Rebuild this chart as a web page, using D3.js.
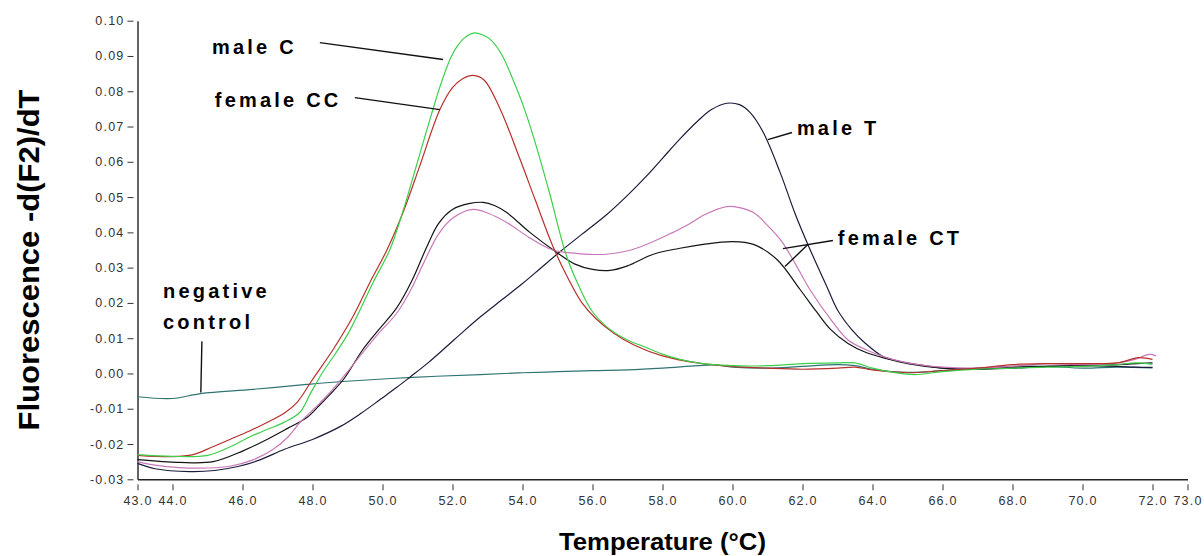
<!DOCTYPE html>
<html>
<head>
<meta charset="utf-8">
<script src="https://cdn.jsdelivr.net/npm/d3@7"></script>
<style>
  html, body { margin: 0; padding: 0; background: #fff; }
  svg { display: block; }
  .tick text { font-family: "Liberation Sans", Arial, sans-serif; font-size: 12.5px; fill: #333; letter-spacing: 1.2px; }
  .note { font-family: "Liberation Sans", Arial, sans-serif; font-weight: bold; font-size: 20px; letter-spacing: 3.2px; fill: #000; }
  .title { font-family: "Liberation Sans", Arial, sans-serif; font-weight: bold; fill: #000; }
</style>
</head>
<body>
<svg id="chart" width="1204" height="556"></svg>
<script>
// Melting-curve derivative traces: [temperature °C, -d(F2)/dT]
const maleC = [
  [43, -0.0230], [44, -0.0235], [45, -0.0232], [45.6, -0.0210], [46.2, -0.0180], [46.7, -0.0159],
  [47.2, -0.0138], [47.64, -0.0110], [47.95, -0.0055], [48.3, 0.0005], [48.6, 0.0048], [49.0, 0.0110],
  [49.27, 0.0162], [49.73, 0.0258], [50.21, 0.0351], [50.6, 0.0465], [51.0, 0.0600], [51.4, 0.0735],
  [51.7, 0.0830], [51.95, 0.0895], [52.15, 0.0930], [52.35, 0.0952], [52.6, 0.0965], [52.85, 0.0960],
  [53.1, 0.0945], [53.4, 0.0905], [53.7, 0.0840], [54.0, 0.0765], [54.3, 0.0675], [54.75, 0.0520],
  [55.25, 0.0335], [55.6, 0.0250], [56.0, 0.0175], [56.5, 0.0125], [57, 0.0095], [57.5, 0.0075], [58, 0.0055],
  [58.5, 0.0040], [59, 0.0030], [60, 0.0022], [61, 0.0022], [62, 0.0028], [63, 0.0030], [63.5, 0.0030],
  [64, 0.0015], [64.6, 0.0003], [65.2, -0.0003], [66, 0.0005], [67, 0.0012], [68, 0.0015], [69, 0.0018],
  [70, 0.0020], [71, 0.0025], [71.5, 0.0030], [72, 0.0026]
];
const femaleCC = [
  [43, -0.0232], [44, -0.0236], [44.59, -0.0230], [45.1, -0.0210], [45.64, -0.0187], [46.2, -0.0163],
  [46.7, -0.0139], [47.2, -0.0112], [47.56, -0.0082], [48.0, -0.0017], [48.59, 0.0068], [49.16, 0.0162],
  [49.64, 0.0258], [50.13, 0.0351], [50.6, 0.0460], [51.07, 0.0590], [51.64, 0.0748], [52.0, 0.0810],
  [52.3, 0.0836], [52.59, 0.0845], [52.9, 0.0832], [53.36, 0.0750], [53.93, 0.0607], [54.36, 0.0493],
  [54.87, 0.0360], [55.3, 0.0270], [55.7, 0.0200], [56.1, 0.0155], [56.6, 0.0115], [57.2, 0.0080],
  [58, 0.0050], [59, 0.0030], [60, 0.0020], [61, 0.0015], [62, 0.0012], [63, 0.0015], [63.5, 0.0018],
  [64, 0.0010], [65, 0.0002], [66, 0.0008], [67, 0.0015], [68, 0.0025], [69, 0.0028], [70, 0.0028],
  [71, 0.0030], [71.6, 0.0045], [72, 0.0040]
];
const femaleCT_a = [
  [43, -0.0244], [44.2, -0.0252], [45.16, -0.0250], [46, -0.0220], [46.7, -0.0187], [47.3, -0.0155],
  [47.84, -0.0125], [48.2, -0.0090], [48.59, -0.0050], [48.9, -0.0015], [49.44, 0.0068], [49.9, 0.0125],
  [50.4, 0.0185], [50.85, 0.0265], [51.27, 0.0360], [51.6, 0.0425], [52.0, 0.0465], [52.5, 0.0482],
  [52.87, 0.0485], [53.2, 0.0476], [53.55, 0.0456], [54.21, 0.0400], [54.98, 0.0343], [55.5, 0.0310],
  [56.0, 0.0295], [56.5, 0.0292], [57.0, 0.0305], [57.74, 0.0338], [58.5, 0.0355], [59.16, 0.0366],
  [60.0, 0.0374], [60.6, 0.0366], [61.27, 0.0323], [61.93, 0.0238], [62.4, 0.0175], [62.8, 0.0125],
  [63.3, 0.0085], [63.8, 0.0060], [64.4, 0.0042], [65, 0.0028], [66, 0.0015], [67, 0.0012], [68, 0.0018],
  [69, 0.0020], [70, 0.0022], [71, 0.0025], [72, 0.0030]
];
const femaleCT_b = [
  [43, -0.0250], [43.5, -0.0260], [44.2, -0.0267], [45, -0.0268], [45.64, -0.0263], [46.3, -0.0245],
  [46.88, -0.0215], [47.3, -0.0180], [47.64, -0.0139], [48.1, -0.0095], [48.5, -0.0054], [49.0, 0.0005],
  [49.44, 0.0060], [49.9, 0.0115], [50.4, 0.0170], [50.8, 0.0235], [51.16, 0.0310], [51.6, 0.0395],
  [52.0, 0.0440], [52.59, 0.0465], [53.0, 0.0455], [53.55, 0.0428], [54.2, 0.0385], [54.87, 0.0350],
  [55.6, 0.0340], [56.4, 0.0338], [57.1, 0.0350], [57.74, 0.0374], [58.3, 0.0400], [58.7, 0.0420],
  [59.2, 0.0450], [59.84, 0.0473], [60.2, 0.0470], [60.6, 0.0456], [61.0, 0.0420], [61.4, 0.0375],
  [61.8, 0.0310], [62.21, 0.0238], [62.87, 0.0145], [63.3, 0.0095], [63.8, 0.0068], [64.4, 0.0045],
  [65, 0.0030], [66, 0.0018], [67, 0.0015], [68, 0.0020], [69, 0.0028], [70, 0.0025], [71, 0.0030],
  [71.5, 0.0040], [71.9, 0.0054], [72.1, 0.0050]
];
const maleT = [
  [43, -0.0255], [43.5, -0.0270], [44.5, -0.0278], [45.2, -0.0275], [45.9, -0.0263], [46.5, -0.0245],
  [47.2, -0.0215], [48.0, -0.0187], [48.8, -0.0150], [49.4, -0.0112], [49.93, -0.0074], [50.4, -0.0040],
  [50.79, -0.0010], [51.3, 0.0030], [51.84, 0.0077], [52.3, 0.0118], [52.79, 0.0160], [53.4, 0.0208],
  [54, 0.0255], [54.5, 0.0297], [55.07, 0.0345], [55.7, 0.0395], [56.4, 0.0450], [57.0, 0.0505],
  [57.5, 0.0555], [58.0, 0.0610], [58.5, 0.0665], [59.0, 0.0715], [59.4, 0.0748], [59.84, 0.0766],
  [60.2, 0.0762], [60.5, 0.0740], [60.87, 0.0685], [61.36, 0.0570], [61.8, 0.0450], [62.2, 0.0355],
  [62.7, 0.0245], [63.0, 0.0180], [63.4, 0.0125], [63.8, 0.0085], [64.3, 0.0048], [64.8, 0.0034],
  [65.5, 0.0022], [66, 0.0015], [67, 0.0012], [68, 0.0015], [69, 0.0020], [70, 0.0022], [71, 0.0020],
  [71.5, 0.0018], [72, 0.0017]
];
const negControl = [
  [43, -0.0066], [44, -0.0071], [44.8, -0.0057], [46.3, -0.0045], [47.84, -0.0031], [48.98, -0.0022],
  [50.87, -0.0011], [52.79, -0.0003], [54, 0.0002], [55, 0.0005], [56, 0.0008], [57, 0.0010], [58, 0.0015],
  [59, 0.0022], [59.5, 0.0024], [60, 0.0018], [61, 0.0015], [62, 0.0020], [63, 0.0025], [63.5, 0.0022],
  [64, 0.0012], [65, 0.0003], [66, 0.0008], [67, 0.0015], [68, 0.0020], [69, 0.0020], [70, 0.0015],
  [71, 0.0018], [72, 0.0016]
];

const seriesNames  = ["negative control", "male T", "female CT (a)", "female CT (b)", "female CC", "male C"];
const seriesData   = [negControl, maleT, femaleCT_a, femaleCT_b, femaleCC, maleC];
const seriesColors = ["#2f7473", "#1c1c3c", "#141414", "#c878b8", "#b8302c", "#3ccf4a"];

const xTicks = [43, 44, 46, 48, 50, 52, 54, 56, 58, 60, 62, 64, 66, 68, 70, 72, 73];
const yTicks = [-0.03, -0.02, -0.01, 0.00, 0.01, 0.02, 0.03, 0.04, 0.05, 0.06, 0.07, 0.08, 0.09, 0.10];

// Callout labels: text anchor and leader segments in data units
const labels = [
  { text: ["male C"],   at: [45.13, 0.0907], leaders: [[[48.21, 0.0938], [51.73, 0.0890]]] },
  { text: ["female CC"], at: [45.21, 0.0754], leaders: [[[49.21, 0.0782], [51.64, 0.0748]]] },
  { text: ["male T"],   at: [61.84, 0.0675], leaders: [[[61.01, 0.0663], [61.70, 0.0683]]] },
  { text: ["female CT"], at: [63.01, 0.0363], leaders: [[[61.44, 0.0354], [62.87, 0.0377]], [[62.16, 0.0366], [61.50, 0.0303]]] },
  { text: ["negative", "control"], at: [43.73, 0.0213], leaders: [[[44.84, 0.0091], [44.81, -0.0054]]] }
];

const svg = d3.select("#chart");
const x = d3.scaleLinear().domain([43, 73]).range([137.5, 1187.5]);
const y = d3.scaleLinear().domain([-0.03, 0.10]).range([479.3, 20.7]);

// Axes
const xAxis = svg.append("g")
  .attr("transform", `translate(0,${y(-0.03)})`)
  .call(d3.axisBottom(x).tickValues(xTicks).tickFormat(d => d.toFixed(1)).tickSizeOuter(0));
xAxis.select(".domain").attr("stroke", "#222").attr("stroke-width", 1.4);
xAxis.selectAll(".tick line").attr("y1", 5).attr("y2", 11).attr("stroke", "#333");
xAxis.selectAll(".tick text").attr("y", 17).attr("dy", "0.71em");

const yAxis = svg.append("g")
  .attr("transform", `translate(${x(43)},0)`)
  .call(d3.axisLeft(y).tickValues(yTicks).tickFormat(d => d.toFixed(2)).tickSizeOuter(0));
yAxis.select(".domain").attr("stroke", "#222").attr("stroke-width", 1.4);
yAxis.selectAll(".tick line").attr("x1", -4).attr("x2", -10).attr("stroke", "#333");
yAxis.selectAll(".tick text").attr("x", -13);
svg.selectAll(".tick text").attr("font-family", null).attr("font-size", null);

// Traces
const line = d3.line().x(d => x(d[0])).y(d => y(d[1])).curve(d3.curveCatmullRom.alpha(0.5));
svg.append("g").selectAll("path")
  .data(seriesData)
  .join("path")
  .attr("d", line)
  .attr("fill", "none")
  .attr("stroke", (d, i) => seriesColors[i])
  .attr("stroke-width", 1.2);

// Callouts
const notes = svg.append("g");
labels.forEach(l => {
  l.leaders.forEach(seg => {
    notes.append("line")
      .attr("x1", x(seg[0][0])).attr("y1", y(seg[0][1]))
      .attr("x2", x(seg[1][0])).attr("y2", y(seg[1][1]))
      .attr("stroke", "#111").attr("stroke-width", 1.4);
  });
  l.text.forEach((t, k) => {
    notes.append("text").attr("class", "note")
      .attr("x", x(l.at[0])).attr("y", y(l.at[1]) + k * 31)
      .text(t);
  });
});

// Axis titles
svg.append("text").attr("class", "title")
  .attr("x", x(58)).attr("y", 550)
  .attr("text-anchor", "middle")
  .attr("font-size", 24)
  .attr("textLength", 207).attr("lengthAdjust", "spacingAndGlyphs")
  .text("Temperature (\u00B0C)");

svg.append("text").attr("class", "title")
  .attr("transform", "translate(39,260) rotate(-90)")
  .attr("text-anchor", "middle")
  .attr("font-size", 29)
  .attr("textLength", 341).attr("lengthAdjust", "spacingAndGlyphs")
  .text("Fluorescence -d(F2)/dT");
</script>
</body>
</html>
